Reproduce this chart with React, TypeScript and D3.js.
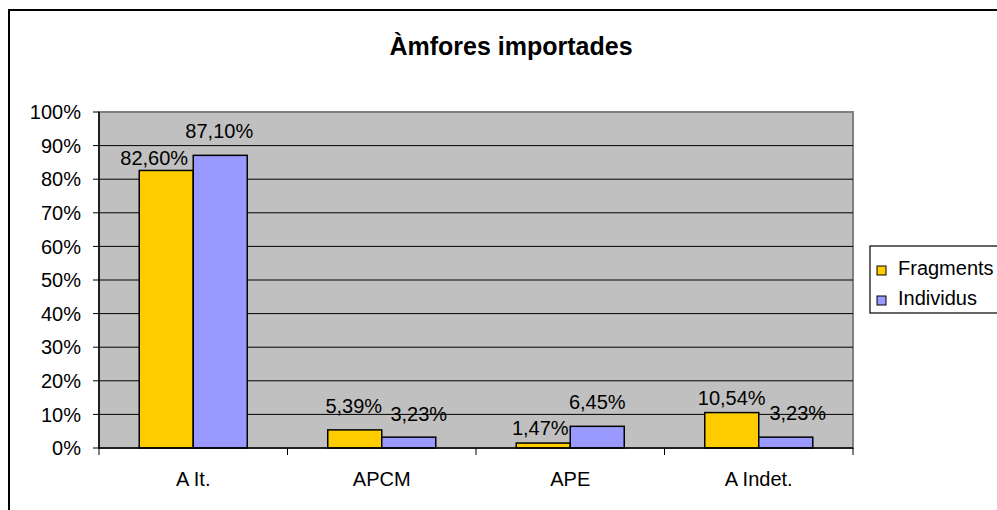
import * as d3 from 'd3';
import * as React from 'react';

const categories = ['A It.', 'APCM', 'APE', 'A Indet.'];
const seriesNames = ['Fragments', 'Individus'];
const fragments = [82.6, 5.39, 1.47, 10.54];
const individus = [87.1, 3.23, 6.45, 3.23];
const yTicks = [0, 10, 20, 30, 40, 50, 60, 70, 80, 90, 100];

// label nudges (Excel moved some labels to avoid overlaps)
const labelNudge = [
  [[-12, 12], [-1, 0], [-3, 9], [0, 9]],
  [[-1, 0], [10, 1], [0, 0], [12, 0]],
];

const colors = ['#FFCC00', '#9999FF'];
const font = '"Liberation Sans", Arial, sans-serif';

const width = 997;
const height = 510;
const plot = { left: 99, right: 853, top: 112, bottom: 448 };

const fmt = (v: number) => v.toFixed(2).replace('.', ',') + '%';

export default function App() {
  const seriesValues = [fragments, individus];

  const x0 = d3
    .scaleBand<string>()
    .domain(categories)
    .range([plot.left, plot.right])
    .paddingInner(0.427)
    .paddingOuter(0.2135);

  const x1 = d3
    .scaleBand<string>()
    .domain(seriesNames)
    .range([0, x0.bandwidth()]);

  const y = d3.scaleLinear().domain([0, 100]).range([plot.bottom, plot.top]);

  const boundaries = d3.range(categories.length + 1).map((i) => plot.left + i * x0.step());

  return (
    <svg
      width={width}
      height={height}
      style={{ position: 'absolute', left: 0, top: 0, background: '#fff' }}
      fontFamily={font}
    >
      <rect x={9} y={10} width={1000} height={520} fill="#fff" stroke="#000" strokeWidth={2} />
      <text x={511} y={55} textAnchor="middle" fontSize={25} fontWeight="bold">
        Àmfores importades
      </text>

      {/* plot area */}
      <rect
        x={plot.left}
        y={plot.top}
        width={plot.right - plot.left}
        height={plot.bottom - plot.top}
        fill="#C0C0C0"
        stroke="#808080"
        strokeWidth={2}
      />
      {yTicks.slice(1, -1).map((t) => (
        <line key={t} x1={plot.left} x2={plot.right} y1={y(t)} y2={y(t)} stroke="#000" strokeWidth={1} />
      ))}

      {/* bars */}
      {seriesValues.map((vals, s) =>
        vals.map((v, i) => (
          <rect
            key={`${s}-${i}`}
            x={(x0(categories[i]) ?? 0) + (x1(seriesNames[s]) ?? 0)}
            y={y(v)}
            width={x1.bandwidth()}
            height={plot.bottom - y(v)}
            fill={colors[s]}
            stroke="#000"
            strokeWidth={1.5}
          />
        ))
      )}

      {/* axes */}
      <line x1={plot.left} x2={plot.left} y1={plot.top} y2={plot.bottom} stroke="#000" strokeWidth={1.5} />
      <line x1={plot.left} x2={plot.right} y1={plot.bottom} y2={plot.bottom} stroke="#000" strokeWidth={1.5} />
      {yTicks.map((t) => (
        <g key={t}>
          <line x1={plot.left - 6} x2={plot.left} y1={y(t)} y2={y(t)} stroke="#000" strokeWidth={1} />
          <text x={81} y={y(t)} dy="0.36em" textAnchor="end" fontSize={20}>
            {t}%
          </text>
        </g>
      ))}
      {boundaries.map((b, i) => (
        <line key={i} x1={b} x2={b} y1={plot.bottom} y2={plot.bottom + 7} stroke="#000" strokeWidth={1} />
      ))}
      {categories.map((c) => (
        <text key={c} x={(x0(c) ?? 0) + x0.bandwidth() / 2} y={486} textAnchor="middle" fontSize={20}>
          {c}
        </text>
      ))}

      {/* data labels */}
      {seriesValues.map((vals, s) =>
        vals.map((v, i) => (
          <text
            key={`l${s}-${i}`}
            x={(x0(categories[i]) ?? 0) + (x1(seriesNames[s]) ?? 0) + x1.bandwidth() / 2 + labelNudge[s][i][0]}
            y={y(v) - 17 + labelNudge[s][i][1]}
            textAnchor="middle"
            fontSize={20}
          >
            {fmt(v)}
          </text>
        ))
      )}

      {/* legend */}
      <rect x={870} y={246} width={140} height={67} fill="#fff" stroke="#000" strokeWidth={1.2} />
      {seriesNames.map((n, s) => (
        <g key={n} transform={`translate(877, ${266 + s * 30})`}>
          <rect width={9} height={9} fill={colors[s]} stroke="#000" strokeWidth={1} />
          <text x={21} y={9} fontSize={20}>
            {n}
          </text>
        </g>
      ))}
    </svg>
  );
}
